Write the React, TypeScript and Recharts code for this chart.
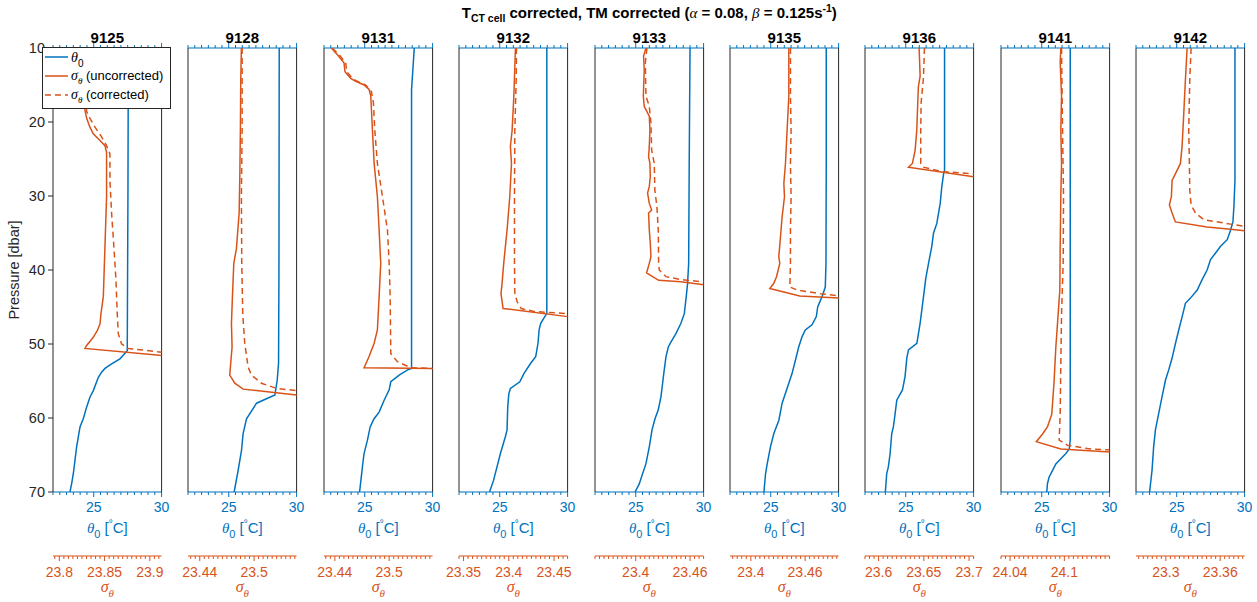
import React from 'react';
import { ComposedChart, Scatter, XAxis, YAxis, Legend, Label } from 'recharts';

type Pair = [number, number]; // [pressure dbar, value]

// ---------------- data ----------------
const castIds = ['9125', '9128', '9131', '9132', '9133', '9135', '9136', '9141', '9142'];

const theta9125: Pair[] = [[10, 27.55], [30, 27.52], [50.9, 27.47], [52.0, 26.93], [52.7, 26.32], [53.3, 25.83], [53.8, 25.58], [54.5, 25.34], [56.3, 24.97], [57.2, 24.72], [58.5, 24.48], [60.1, 24.23], [61.2, 23.99], [63.9, 23.74], [65.7, 23.62], [67.5, 23.5], [68.9, 23.37], [70, 23.25]];
const sigU9125: Pair[] = [[10, 23.823], [14, 23.825], [18.4, 23.8283], [19.5, 23.8302], [20.7, 23.8338], [21.6, 23.8375], [22.5, 23.8449], [23.2, 23.8504], [24.1, 23.8522], [25.6, 23.8522], [30.1, 23.8522], [36.9, 23.8504], [43.6, 23.8486], [45.9, 23.846], [47.3, 23.8449], [48.2, 23.8419], [49.1, 23.8375], [50.2, 23.8302], [50.6, 23.8283], [52.1, 23.9627]];
const sigC9125: Pair[] = [[10, 23.825], [14, 23.827], [18.6, 23.8302], [19.5, 23.8338], [20.7, 23.8394], [22.0, 23.8467], [23.2, 23.8522], [24.3, 23.8559], [27.9, 23.8559], [32.4, 23.8578], [36.9, 23.8603], [41.4, 23.8626], [45.9, 23.864], [48.6, 23.8651], [50.0, 23.8688], [50.6, 23.8762], [51.1, 23.913], [51.4, 23.9627]];

const theta9128: Pair[] = [[10, 28.72], [40, 28.7], [52.6, 28.67], [54.9, 28.57], [56.9, 28.4], [58.0, 27.05], [60.1, 26.31], [62.1, 26.06], [64.4, 25.94], [65.7, 25.82], [67.1, 25.69], [70, 25.4]];
const sigU9128: Pair[] = [[10, 23.486], [14.3, 23.4853], [21.0, 23.4849], [27.8, 23.4842], [32.3, 23.4835], [37.1, 23.4805], [39.1, 23.4776], [43.6, 23.4761], [47.2, 23.475], [50.4, 23.4757], [54.2, 23.4731], [55.3, 23.4787], [56.1, 23.4879], [56.9, 23.5469], [57.6, 23.6023]];
const sigC9128: Pair[] = [[10, 23.4868], [21, 23.4868], [30, 23.486], [39, 23.4864], [46, 23.4875], [49.9, 23.4897], [53.1, 23.4934], [54.2, 23.4971], [55.3, 23.5082], [56.0, 23.5248], [56.3, 23.5469], [56.7, 23.6023]];

const theta9131: Pair[] = [[10, 28.65], [15.6, 28.45], [53.3, 28.45], [53.5, 28.16], [54.2, 27.54], [55.1, 26.92], [56.2, 26.8], [57.6, 26.43], [59.2, 26.06], [60.1, 25.69], [61.2, 25.4], [63.0, 25.2], [64.8, 24.95], [66.6, 24.83], [70, 24.62]];
const sigU9131: Pair[] = [[10, 23.4361], [10.9, 23.4428], [12.0, 23.4501], [13.2, 23.4512], [14.1, 23.4575], [14.5, 23.4631], [15.0, 23.4723], [15.6, 23.4778], [16.5, 23.4797], [21.1, 23.4815], [25.6, 23.4834], [30.1, 23.487], [34.6, 23.4889], [39.1, 23.4907], [43.6, 23.4889], [48.1, 23.487], [49.9, 23.4834], [51.7, 23.4778], [53.2, 23.4723], [53.3, 23.5479], [53.4, 23.5977]];
const sigC9131: Pair[] = [[10, 23.4372], [10.9, 23.4446], [12.0, 23.452], [13.2, 23.4531], [14.1, 23.4594], [14.5, 23.4649], [15.0, 23.4741], [15.9, 23.4804], [17.4, 23.4826], [21.1, 23.4841], [25.6, 23.487], [30.1, 23.4926], [34.6, 23.4981], [39.1, 23.5], [43.6, 23.5011], [51.3, 23.5018], [52.4, 23.5092], [53.2, 23.5239], [53.3, 23.5479], [53.5, 23.5977]];

const theta9132: Pair[] = [[10, 28.47], [45.9, 28.47], [46.1, 28.39], [47.2, 28.02], [48.1, 27.9], [49.9, 27.82], [51.7, 27.65], [52.6, 27.28], [54.0, 26.78], [55.1, 26.48], [56.0, 25.79], [56.7, 25.67], [58.5, 25.59], [61.6, 25.54], [62.5, 25.42], [64.8, 25.05], [66.6, 24.8], [68.4, 24.55], [70, 24.25]];
const sigU9132: Pair[] = [[10, 23.4074], [16.5, 23.4056], [21.1, 23.4037], [23.3, 23.4018], [25.6, 23.403], [30.1, 23.4011], [34.6, 23.3981], [39.1, 23.3944], [41.8, 23.3926], [43.2, 23.3914], [45.2, 23.3937], [46.3, 23.465], [47.0, 23.5207]];
const sigC9132: Pair[] = [[10, 23.4085], [14.3, 23.4082], [21.1, 23.4067], [30.1, 23.4063], [39.1, 23.4063], [43.2, 23.4067], [44.3, 23.4093], [45.2, 23.4137], [45.6, 23.4278], [45.9, 23.465], [46.1, 23.5207]];

const theta9133: Pair[] = [[10, 29.0], [25.6, 28.94], [39.1, 28.9], [41.8, 28.82], [43.6, 28.72], [45.9, 28.58], [47.2, 28.33], [48.6, 27.96], [49.7, 27.6], [50.4, 27.4], [51.7, 27.23], [53.5, 27.1], [55.3, 26.98], [57.1, 26.86], [58.9, 26.66], [60.1, 26.42], [61.6, 26.2], [63.9, 26.0], [66.2, 25.75], [67.5, 25.51], [68.9, 25.26], [70, 24.95]];
const sigU9133: Pair[] = [[10, 23.4113], [11.1, 23.4087], [12.9, 23.4094], [16.5, 23.4084], [17.9, 23.4094], [19.2, 23.415], [21.1, 23.4157], [23.3, 23.415], [24.7, 23.4142], [25.6, 23.4157], [27.4, 23.4161], [28.7, 23.415], [29.6, 23.4131], [31.0, 23.415], [31.9, 23.4176], [32.3, 23.4142], [34.6, 23.415], [36.4, 23.4161], [38.2, 23.4168], [39.1, 23.415], [40.4, 23.412], [41.4, 23.4253], [41.6, 23.4499], [42.0, 23.475], [42.7, 23.5236]];
const sigC9133: Pair[] = [[10, 23.4124], [12.0, 23.4106], [16.5, 23.4113], [17.9, 23.415], [20.1, 23.4168], [23.8, 23.4176], [25.6, 23.4205], [29.3, 23.4212], [31.4, 23.4234], [34.6, 23.4249], [39.1, 23.4253], [40.0, 23.426], [40.9, 23.4334], [41.3, 23.4499], [41.6, 23.475], [42.0, 23.5236]];

const theta9135: Pair[] = [[10, 29.09], [25.6, 29.09], [39.1, 29.07], [42.3, 29.02], [43.6, 28.78], [45.0, 28.46], [46.3, 28.36], [47.4, 28.04], [48.1, 27.55], [49.0, 27.31], [50.4, 27.06], [52.2, 26.82], [54.0, 26.57], [55.3, 26.33], [56.7, 26.08], [58.0, 25.84], [60.3, 25.6], [62.1, 25.23], [63.9, 24.98], [66.2, 24.74], [67.5, 24.62], [70, 24.5]];
const sigU9135: Pair[] = [[10, 23.442], [16.5, 23.442], [21.1, 23.4401], [25.6, 23.4383], [28.3, 23.4365], [30.1, 23.4372], [32.8, 23.4346], [35.5, 23.4328], [38.2, 23.4309], [39.1, 23.432], [40.9, 23.4284], [41.8, 23.4254], [42.5, 23.421], [43.5, 23.4541], [43.8, 23.497], [44.3, 23.5502]];
const sigC9135: Pair[] = [[10, 23.4438], [16.5, 23.4438], [21.1, 23.4445], [25.6, 23.4438], [30.1, 23.4445], [34.6, 23.4438], [39.1, 23.4438], [42.3, 23.4431], [42.7, 23.4511], [43.2, 23.4768], [43.5, 23.497], [43.8, 23.5502]];

const theta9136: Pair[] = [[10, 27.86], [26.5, 27.86], [27.0, 27.79], [28.7, 27.66], [31.0, 27.54], [33.7, 27.29], [35.0, 27.05], [36.8, 26.92], [39.1, 26.68], [41.1, 26.48], [43.6, 26.31], [47.2, 26.06], [49.9, 25.82], [50.8, 25.2], [51.9, 25.08], [54.4, 24.95], [56.2, 24.76], [57.6, 24.34], [59.4, 24.22], [61.2, 24.09], [62.1, 23.97], [64.8, 23.85], [66.6, 23.72], [67.5, 23.6], [70, 23.5]];
const sigU9136: Pair[] = [[10, 23.6448], [13.8, 23.6459], [15.2, 23.644], [17.4, 23.6433], [21.1, 23.6422], [23.8, 23.6404], [25.6, 23.6374], [26.1, 23.633], [27.4, 23.705], [28.3, 23.7584]];
const sigC9136: Pair[] = [[10, 23.6507], [14.0, 23.6496], [17.4, 23.647], [21.1, 23.6466], [25.6, 23.6466], [26.1, 23.6496], [26.7, 23.6699], [27.0, 23.705], [27.6, 23.7584]];

const theta9141: Pair[] = [[10, 27.1], [63.0, 27.1], [64.2, 27.03], [64.8, 26.78], [65.5, 26.41], [66.2, 26.04], [67.1, 25.79], [68.0, 25.54], [68.9, 25.42], [70, 25.37]];
const sigU9141: Pair[] = [[10, 24.0961], [12.0, 24.0954], [16.5, 24.0969], [21.1, 24.0961], [25.6, 24.0969], [30.1, 24.0961], [36.8, 24.0954], [42.7, 24.095], [45.9, 24.0932], [50.4, 24.0906], [55.0, 24.0887], [59.5, 24.0861], [61.2, 24.0813], [62.2, 24.0757], [63.2, 24.069], [64.2, 24.0961], [64.6, 24.15], [65.1, 24.2039]];
const sigC9141: Pair[] = [[10, 24.0969], [21.1, 24.098], [30.1, 24.0991], [39.1, 24.0987], [45.9, 24.0969], [52.7, 24.0961], [59.5, 24.0954], [63.0, 24.0943], [63.7, 24.1036], [64.2, 24.1296], [64.3, 24.15], [64.6, 24.2039]];

const theta9142: Pair[] = [[10, 29.29], [27.9, 29.29], [31.5, 29.21], [33.5, 29.14], [34.6, 28.97], [35.9, 28.72], [36.8, 28.23], [37.7, 27.86], [38.6, 27.49], [40.0, 27.24], [41.3, 26.87], [42.7, 26.51], [43.8, 26.01], [44.5, 25.64], [46.3, 25.4], [48.1, 25.15], [49.9, 24.91], [51.9, 24.66], [53.5, 24.41], [54.9, 24.17], [57.1, 23.92], [59.4, 23.67], [61.6, 23.43], [63.9, 23.3], [67.1, 23.18], [70, 23.0]];
const sigU9142: Pair[] = [[10, 23.3235], [14.3, 23.3216], [18.8, 23.3198], [23.3, 23.3179], [25.6, 23.3161], [27.0, 23.3105], [27.9, 23.3069], [30.1, 23.3061], [31.2, 23.3039], [32.3, 23.3069], [33.5, 23.3105], [34.2, 23.3456], [34.5, 23.3714], [34.7, 23.3869], [35.3, 23.4379]];
const sigC9142: Pair[] = [[10, 23.3279], [14.3, 23.3264], [21.0, 23.3253], [25.6, 23.326], [29.2, 23.3264], [31.2, 23.3279], [32.3, 23.3327], [33.2, 23.3419], [33.8, 23.3714], [34.1, 23.3869], [34.5, 23.4379]];

const thetaSeries = [theta9125, theta9128, theta9131, theta9132, theta9133, theta9135, theta9136, theta9141, theta9142];
const sigmaUncorrected = [sigU9125, sigU9128, sigU9131, sigU9132, sigU9133, sigU9135, sigU9136, sigU9141, sigU9142];
const sigmaCorrected = [sigC9125, sigC9128, sigC9131, sigC9132, sigC9133, sigC9135, sigC9136, sigC9141, sigC9142];

const sigmaDomains: [number, number][] = [
  [23.793, 23.913], [23.427, 23.547], [23.428, 23.548], [23.345, 23.465], [23.355, 23.475],
  [23.377, 23.497], [23.585, 23.705], [24.03, 24.15], [23.267, 23.387],
];
const sigmaTickLabels: string[][] = [
  ['23.8', '23.85', '23.9'], ['23.44', '23.5'], ['23.44', '23.5'], ['23.35', '23.4', '23.45'], ['23.4', '23.46'],
  ['23.4', '23.46'], ['23.6', '23.65', '23.7'], ['24.04', '24.1'], ['23.3', '23.36'],
];
const thetaDomain: [number, number] = [22, 30];
const thetaTickLabels = [25, 30];
const pressureTicks = [10, 20, 30, 40, 50, 60, 70];
const legendLabels = ['(uncorrected)', '(corrected)'];

// ---------------- style / layout ----------------
const BLUE = '#0072BD';
const ORANGE = '#D95319';
const AXIS = '#262626';
const FONT = '"Liberation Sans", Arial, Helvetica, sans-serif';
const SERIF = '"Liberation Serif", "Times New Roman", serif';

const CHART_W = 400;
const CHART_H = 602;
const PAD_L = 140;
const PLOT_W = 108.6;
const PLOT_TOP = 48;
const TOP_AX_H = 20;
const THETA_AX_H = 64;
const SIGMA_AX_H = 46;
const LEFT_AX_W = 40;
const RIGHT_AX_W = 10;
const PANEL_X0 = 53;
const PANEL_STEP = 135.4;

const thetaTicks: number[] = [];
for (let k = 44; k <= 60; k++) thetaTicks.push(k / 2);

function sigmaTickValues(dom: [number, number]): number[] {
  const out: number[] = [];
  const start = Math.ceil(dom[0] / 0.005 - 1e-6);
  const end = Math.floor(dom[1] / 0.005 + 1e-6);
  for (let k = start; k <= end; k++) out.push(Math.round(k * 5) / 1000);
  return out;
}

const toPts = (arr: Pair[]) => arr.map(([p, v]) => ({ p, v }));
const NoShape = () => <g />;

const ThetaBottomTick = (props: any) => {
  const { x, y, payload } = props;
  const v = payload.value;
  const major = thetaTickLabels.some((t) => Math.abs(t - v) < 1e-6);
  return (
    <g>
      <line x1={x} x2={x} y1={y} y2={y + (major ? 5 : 3)} stroke={BLUE} strokeWidth={1} />
      {major && (
        <text x={x} y={y + 20} textAnchor="middle" fill={BLUE} fontSize={14} fontFamily={FONT}>
          {v}
        </text>
      )}
    </g>
  );
};

const ThetaTopTick = (props: any) => {
  const { x, y, payload } = props;
  const v = payload.value;
  const major = thetaTickLabels.some((t) => Math.abs(t - v) < 1e-6);
  return <line x1={x} x2={x} y1={y} y2={y - (major ? 5 : 3)} stroke={BLUE} strokeWidth={1} />;
};

const makeSigmaTick = (labels: string[]) => (props: any) => {
  const { x, y, payload } = props;
  const v = payload.value;
  const lbl = labels.find((l) => Math.abs(parseFloat(l) - v) < 1e-6);
  return (
    <g>
      <line x1={x} x2={x} y1={y} y2={y + (lbl ? 5 : 3)} stroke={ORANGE} strokeWidth={1} />
      {lbl && (
        <text x={x} y={y + 21} textAnchor="middle" fill={ORANGE} fontSize={14} fontFamily={FONT}>
          {lbl}
        </text>
      )}
    </g>
  );
};

const ThetaAxisLabel = (props: any) => {
  const vb = props.viewBox || {};
  const cx = vb.x + vb.width / 2;
  const y = vb.y + 41;
  return (
    <text x={cx} y={y} textAnchor="middle" fill={BLUE} fontSize={15} fontFamily={FONT}>
      <tspan fontStyle="italic" fontFamily={SERIF}>θ</tspan>
      <tspan dy={5} fontSize={11}>0</tspan>
      <tspan dy={-5}> [</tspan>
      <tspan dy={-6} fontSize={10}>°</tspan>
      <tspan dy={6}>C]</tspan>
    </text>
  );
};

const SigmaAxisLabel = (props: any) => {
  const vb = props.viewBox || {};
  const cx = vb.x + vb.width / 2;
  const y = vb.y + 36;
  return (
    <text x={cx} y={y} textAnchor="middle" fill={ORANGE} fontSize={16} fontFamily={SERIF} fontStyle="italic">
      <tspan>σ</tspan>
      <tspan dy={5} fontSize={11}>θ</tspan>
    </text>
  );
};

const PressureLabel = (props: any) => {
  const vb = props.viewBox || {};
  const x = vb.x + 6;
  const cy = vb.y + vb.height / 2;
  return (
    <text x={x} y={cy} transform={`rotate(-90, ${x}, ${cy})`} textAnchor="middle" fill={AXIS} fontSize={14.5} fontFamily={FONT}>
      Pressure [dbar]
    </text>
  );
};

const makeTopLabel = (title: string, withSuptitle: boolean) => (props: any) => {
  const vb = props.viewBox || {};
  const cx = vb.x + vb.width / 2;
  return (
    <g>
      <text x={cx} y={vb.y + 15} textAnchor="middle" fill="#000" fontSize={15} fontWeight="bold" fontFamily={FONT}>
        {title}
      </text>
      {withSuptitle && (
        <text x={cx} y={vb.y - 10} textAnchor="middle" fill="#000" fontSize={15} fontWeight="bold" fontFamily={FONT}>
          <tspan>T</tspan>
          <tspan dy={4} fontSize={10.5}>CT cell</tspan>
          <tspan dy={-4}> corrected, TM corrected (</tspan>
          <tspan fontStyle="italic" fontWeight="normal" fontFamily={SERIF}>α</tspan>
          <tspan> = 0.08, </tspan>
          <tspan fontStyle="italic" fontWeight="normal" fontFamily={SERIF}>β</tspan>
          <tspan> = 0.125s</tspan>
          <tspan dy={-6} fontSize={10.5}>-1</tspan>
          <tspan dy={6}>)</tspan>
        </text>
      )}
    </g>
  );
};

const LegendBox = () => (
  <svg width={129} height={62} style={{ display: 'block' }}>
    <rect x={0.5} y={0.5} width={128} height={61} fill="#fff" stroke={AXIS} strokeWidth={1} />
    <line x1={3} x2={26} y1={10} y2={10} stroke={BLUE} strokeWidth={1.5} />
    <text x={29} y={15} fontSize={14} fill="#000" fontFamily={FONT}>
      <tspan fontStyle="italic" fontFamily={SERIF}>θ</tspan>
      <tspan dy={5} fontSize={10}>0</tspan>
    </text>
    <line x1={3} x2={26} y1={29} y2={29} stroke={ORANGE} strokeWidth={1.5} />
    <text x={29} y={33} fontSize={13} fill="#000" fontFamily={FONT}>
      <tspan fontStyle="italic" fontFamily={SERIF} fontSize={14}>σ</tspan>
      <tspan dy={4} fontSize={9} fontStyle="italic" fontFamily={SERIF}>θ</tspan>
      <tspan dy={-4}> {legendLabels[0]}</tspan>
    </text>
    <line x1={3} x2={26} y1={48} y2={48} stroke={ORANGE} strokeWidth={1.5} strokeDasharray="6 4" />
    <text x={29} y={52} fontSize={13} fill="#000" fontFamily={FONT}>
      <tspan fontStyle="italic" fontFamily={SERIF} fontSize={14}>σ</tspan>
      <tspan dy={4} fontSize={9} fontStyle="italic" fontFamily={SERIF}>θ</tspan>
      <tspan dy={-4}> {legendLabels[1]}</tspan>
    </text>
  </svg>
);

function Panel({ i }: { i: number }) {
  const plotLeft = PANEL_X0 + i * PANEL_STEP;
  const chartLeft = plotLeft - PAD_L;
  const first = i === 0;
  const sDom = sigmaDomains[i];
  const sTicks = sigmaTickValues(sDom);
  const SigmaTick = makeSigmaTick(sigmaTickLabels[i]);
  return (
    <div style={{ position: 'absolute', left: chartLeft, top: 0, width: CHART_W, height: CHART_H }}>
      <ComposedChart
        width={CHART_W}
        height={CHART_H}
        margin={{
          top: PLOT_TOP - TOP_AX_H,
          bottom: 0,
          left: PAD_L - LEFT_AX_W,
          right: CHART_W - PAD_L - PLOT_W - RIGHT_AX_W,
        }}
      >
        <XAxis
          xAxisId="tt"
          orientation="top"
          type="number"
          dataKey="v"
          domain={thetaDomain}
          allowDataOverflow
          ticks={thetaTicks}
          interval={0}
          height={TOP_AX_H}
          tickSize={0}
          tickMargin={0}
          tickLine={false}
          axisLine={{ stroke: BLUE, strokeWidth: 1.2 }}
          tick={<ThetaTopTick />}
        >
          <Label content={makeTopLabel(castIds[i], i === 4)} />
        </XAxis>
        <XAxis
          xAxisId="zsigma"
          orientation="bottom"
          type="number"
          dataKey="v"
          domain={sDom}
          allowDataOverflow
          ticks={sTicks}
          interval={0}
          height={SIGMA_AX_H}
          tickSize={0}
          tickMargin={0}
          tickLine={false}
          axisLine={{ stroke: ORANGE, strokeWidth: 1.2 }}
          tick={<SigmaTick />}
        >
          <Label content={SigmaAxisLabel} />
        </XAxis>
        <XAxis
          xAxisId="atheta"
          orientation="bottom"
          type="number"
          dataKey="v"
          domain={thetaDomain}
          allowDataOverflow
          ticks={thetaTicks}
          interval={0}
          height={THETA_AX_H}
          tickSize={0}
          tickMargin={0}
          tickLine={false}
          axisLine={{ stroke: BLUE, strokeWidth: 1.2 }}
          tick={<ThetaBottomTick />}
        >
          <Label content={ThetaAxisLabel} />
        </XAxis>
        <YAxis
          yAxisId="p"
          type="number"
          dataKey="p"
          domain={[10, 70]}
          reversed
          allowDataOverflow
          ticks={pressureTicks}
          interval={0}
          width={LEFT_AX_W}
          tickSize={5}
          tickMargin={3}
          tickLine={{ stroke: AXIS }}
          axisLine={{ stroke: AXIS }}
          tick={first ? { fill: AXIS, fontSize: 14.5, fontFamily: FONT } : false}
        >
          {first && <Label content={PressureLabel} />}
        </YAxis>
        <YAxis
          yAxisId="pr"
          orientation="right"
          type="number"
          dataKey="p"
          domain={[10, 70]}
          reversed
          allowDataOverflow
          ticks={pressureTicks}
          interval={0}
          width={RIGHT_AX_W}
          tickSize={5}
          tickLine={{ stroke: AXIS }}
          axisLine={{ stroke: AXIS }}
          tick={false}
        />
        <Scatter
          name="θ0"
          data={toPts(thetaSeries[i])}
          xAxisId="atheta"
          yAxisId="p"
          fill="none"
          shape={NoShape}
          line={{ stroke: BLUE, strokeWidth: 1.5 }}
          isAnimationActive={false}
        />
        <Scatter
          name="σθ (uncorrected)"
          data={toPts(sigmaUncorrected[i])}
          xAxisId="zsigma"
          yAxisId="p"
          fill="none"
          shape={NoShape}
          line={{ stroke: ORANGE, strokeWidth: 1.5 }}
          isAnimationActive={false}
        />
        <Scatter
          name="σθ (corrected)"
          data={toPts(sigmaCorrected[i])}
          xAxisId="zsigma"
          yAxisId="p"
          fill="none"
          shape={NoShape}
          line={{ stroke: ORANGE, strokeWidth: 1.5, strokeDasharray: '6 4' }}
          isAnimationActive={false}
        />
        {first && (
          <Legend
            layout="vertical"
            align="center"
            verticalAlign="middle"
            wrapperStyle={{ left: 42 - chartLeft, top: 47, width: 129, height: 62 }}
            content={() => <LegendBox />}
          />
        )}
      </ComposedChart>
    </div>
  );
}

export default function App() {
  return (
    <div
      style={{
        position: 'absolute',
        left: 0,
        top: 0,
        width: 1257,
        height: 602,
        overflow: 'hidden',
        background: '#fff',
        fontFamily: FONT,
      }}
    >
      {castIds.map((id, i) => (
        <Panel key={id} i={i} />
      ))}
    </div>
  );
}
